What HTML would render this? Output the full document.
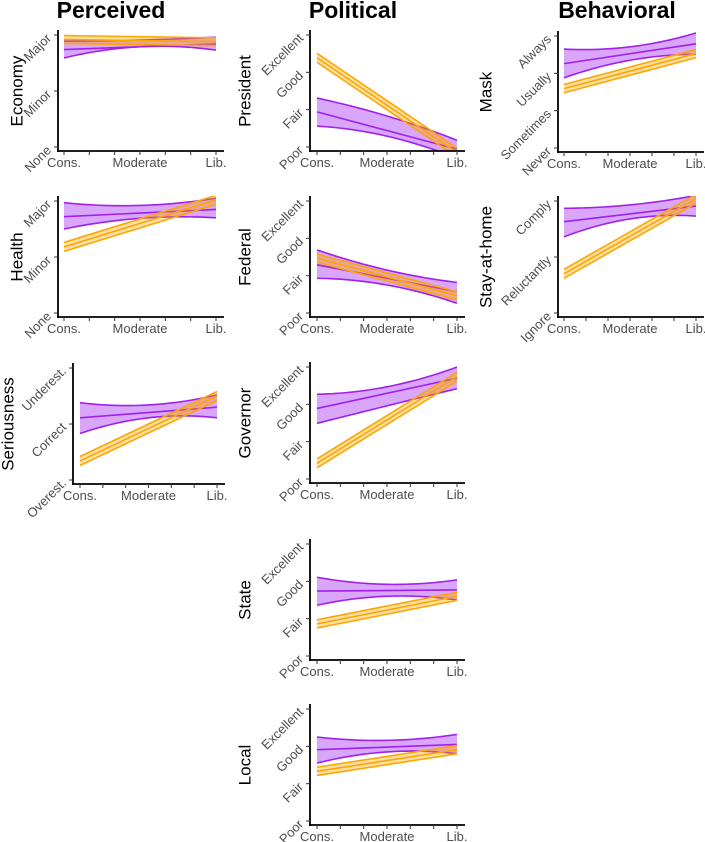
<!DOCTYPE html>
<html><head><meta charset="utf-8">
<style>
html,body{margin:0;padding:0;background:#fff;}
svg{display:block;font-family:"Liberation Sans",Arial,sans-serif;}
</style></head>
<body>
<svg id="fig" width="705" height="842" viewBox="0 0 705 842">
<text x="111" y="18" font-size="23" font-weight="bold" text-anchor="middle">Perceived</text>
<text x="353" y="18" font-size="23" font-weight="bold" text-anchor="middle">Political</text>
<text x="617" y="18" font-size="23" font-weight="bold" text-anchor="middle">Behavioral</text>
</svg>
<script>
// ---- data (values in y-category units; 0 = lowest category) ----
const xLabels = ["Cons.", "Moderate", "Lib."];
const panelNames = ["Economy","Health","Seriousness","President","Federal","Governor","State","Local","Mask","Stay-at-home"];
const yLevels = [
  ["None","Minor","Major"],
  ["None","Minor","Major"],
  ["Overest.","Correct","Underest."],
  ["Poor","Fair","Good","Excellent"],
  ["Poor","Fair","Good","Excellent"],
  ["Poor","Fair","Good","Excellent"],
  ["Poor","Fair","Good","Excellent"],
  ["Poor","Fair","Good","Excellent"],
  ["Never","Sometimes","Usually","Always"],
  ["Ignore","Reluctantly","Comply"]
];
// orange series: mean at Cons. and Lib., CI half-width
const orangeCons = [1.92, 1.18, 0.34, 2.39, 1.47, 0.42, 0.86, 1.33, 1.59, 0.70];
const orangeLib  = [1.88, 2.02, 1.50, -0.15, 0.46, 2.74, 1.60, 1.91, 2.53, 2.04];
const orangeHalf = [0.07, 0.08, 0.08, 0.12, 0.11, 0.12, 0.11, 0.11, 0.11, 0.08];
// purple series: mean at Cons./Lib., CI bounds at Cons./Moderate/Lib.
const purpleMeanCons = [1.74, 1.72, 1.11, 0.94, 1.29, 1.89, 1.74, 1.91, 2.26, 1.63];
const purpleMeanLib  = [1.84, 1.85, 1.30, -0.06, 0.57, 2.70, 1.77, 2.05, 2.79, 1.91];
const purpleUpper = [[1.89,1.91,1.96],[1.97,1.92,2.05],[1.38,1.34,1.52],[1.31,0.83,0.18],[1.69,1.15,0.82],[2.27,2.47,3.00],[2.11,1.92,2.04],[2.25,2.16,2.32],[2.65,2.71,3.08],[1.87,1.93,2.10]];
const purpleLower = [[1.59,1.79,1.73],[1.50,1.69,1.70],[0.83,1.11,1.11],[0.56,0.29,-0.30],[0.93,0.75,0.26],[1.49,1.96,2.42],[1.36,1.60,1.50],[1.55,1.85,1.80],[1.88,2.35,2.51],[1.36,1.68,1.73]];

// ---- layout ----
const layout = [
  {ax:58, x0:64, x1:216, base:151, tx:17},
  {ax:58, x0:64, x1:216, base:317, tx:17},
  {ax:73, x0:80, x1:217, base:484, tx:8},
  {ax:310, x0:317, x1:457, base:151, tx:245},
  {ax:310, x0:317, x1:457, base:317, tx:245},
  {ax:310, x0:317, x1:457, base:483, tx:245},
  {ax:310, x0:317, x1:457, base:660, tx:245},
  {ax:310, x0:317, x1:457, base:825, tx:245},
  {ax:558, x0:564, x1:696, base:152, tx:486},
  {ax:558, x0:564, x1:696, base:317, tx:486}
];
const NS = "http://www.w3.org/2000/svg";
const svg = document.getElementById("fig");
function mk(tag, attrs, parent){
  const e = document.createElementNS(NS, tag);
  for (const k in attrs) e.setAttribute(k, attrs[k]);
  (parent||svg).appendChild(e);
  return e;
}
const defs = mk("defs", {});
const PURPLE = "#a020f0", ORANGE = "#ffa500";

panelNames.forEach((name, i) => {
  const L = layout[i];
  const lv = yLevels[i];
  const n = lv.length;
  const yTop = L.base - 116, yBot = L.base - 4;
  const yS = v => yBot - v * (yBot - yTop) / (n - 1);
  const xS = t => L.x0 + t * (L.x1 - L.x0);   // t in [0,1]
  const slug = name.toLowerCase().replace(/[^a-z]+/g, "-");
  const g = mk("g", {});
  
  

  const cp = mk("clipPath", {id: "clip" + i}, defs);
  mk("rect", {x: L.ax, y: L.base - 121, width: L.x1 + 8 - L.ax, height: 121}, cp);
  const plot = mk("g", {"clip-path": "url(#clip" + i + ")"}, g);

  const quad = (a, t) => a[0]*(1-t)*(1-2*t) + a[1]*4*t*(1-t) + a[2]*t*(2*t-1);
  const N = 30;
  let up = [], lo = [];
  for (let k = 0; k <= N; k++) {
    const t = k / N;
    up.push([xS(t), yS(quad(purpleUpper[i], t))]);
    lo.push([xS(t), yS(quad(purpleLower[i], t))]);
  }
  const pts = a => a.map(p => p[0].toFixed(2) + "," + p[1].toFixed(2)).join(" ");
  const rib = mk("polygon", {points: pts(up.concat(lo.slice().reverse())), fill: "rgba(160,32,240,0.4)", stroke: "none"}, plot);
  
  
  const ul = mk("polyline", {points: pts(up), fill: "none", stroke: PURPLE, "stroke-width": 1.6}, plot);
  
  
  const ll = mk("polyline", {points: pts(lo), fill: "none", stroke: PURPLE, "stroke-width": 1.6}, plot);
  
  
  const pm = mk("line", {x1: xS(0), y1: yS(purpleMeanCons[i]), x2: xS(1), y2: yS(purpleMeanLib[i]), stroke: PURPLE, "stroke-width": 1.6}, plot);
  
  

  const h = orangeHalf[i];
  const oc = orangeCons[i], ol = orangeLib[i];
  const ob = mk("polygon", {points: [xS(0)+","+yS(oc+h), xS(1)+","+yS(ol+h), xS(1)+","+yS(ol-h), xS(0)+","+yS(oc-h)].join(" "), fill: "rgba(255,165,0,0.35)"}, plot);
  
  
  [[h, 'upper'], [0, 'mean'], [-h, 'lower']].forEach(([d, nm]) => {
    const l = mk("line", {x1: xS(0), y1: yS(oc + d), x2: xS(1), y2: yS(ol + d), stroke: ORANGE, "stroke-width": 1.6}, plot);
    
    
  });

  const ya = mk("line", {x1: L.ax, y1: L.base - 121, x2: L.ax, y2: L.base + 1, stroke: "#000", "stroke-width": 1.8}, g);
  
  
  const xa = mk("line", {x1: L.ax - 1, y1: L.base, x2: L.x1 + 8, y2: L.base, stroke: "#000", "stroke-width": 1.8}, g);
  
  

  lv.forEach((lab, k) => {
    const y = yS(k);
    mk("line", {x1: L.ax - 4, y1: y, x2: L.ax, y2: y, stroke: "#333", "stroke-width": 1}, g);
    const t = mk("text", {x: L.ax - 6, y: y + 4, "font-size": 13, fill: "#4d4d4d", "text-anchor": "end", transform: "rotate(-45 " + (L.ax - 6) + " " + (y + 4) + ")"}, g);
    t.textContent = lab;
    
    
  });
  for (let k = 0; k <= 6; k++) {
    const x = xS(k / 6);
    mk("line", {x1: x, y1: L.base, x2: x, y2: L.base + 4, stroke: "#333", "stroke-width": 1}, g);
  }
  xLabels.forEach((lab, k) => {
    const t = mk("text", {x: xS(k / 2), y: L.base + 16, "font-size": 13, fill: "#4d4d4d", "text-anchor": "middle"}, g);
    t.textContent = lab;
    
    
  });
  const cy = (yTop + yBot) / 2;
  const tt = mk("text", {x: L.tx, y: cy, "font-size": 17, fill: "#000", "text-anchor": "middle", "dominant-baseline": "central", transform: "rotate(-90 " + L.tx + " " + cy + ")"}, g);
  tt.textContent = name;
  
  
});
</script>
</body></html>
